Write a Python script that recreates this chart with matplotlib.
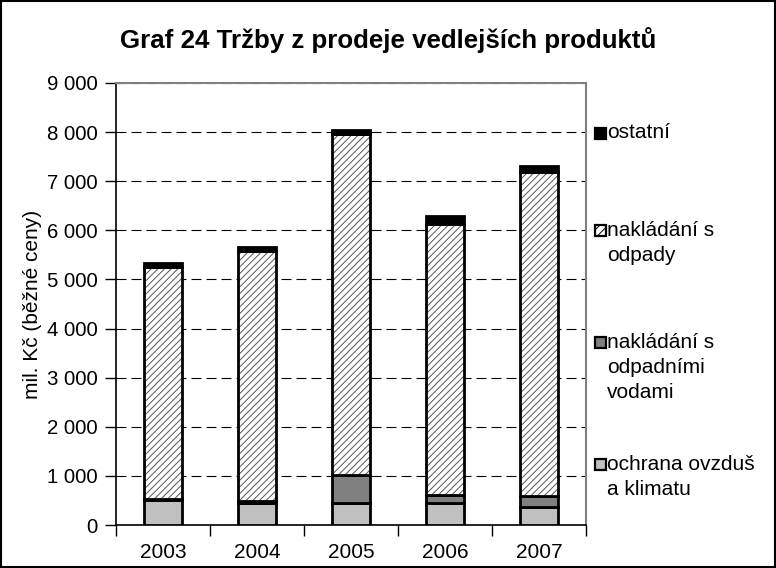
import numpy as np
import matplotlib.pyplot as plt
from matplotlib.patches import Rectangle

plt.rcParams['font.family'] = ['Liberation Sans', 'DejaVu Sans']
plt.rcParams['hatch.linewidth'] = 0.7

years = ["2003", "2004", "2005", "2006", "2007"]
ochrana = [500, 440, 440, 440, 370]
vody = [20, 40, 570, 170, 220]
odpady = [4730, 5090, 6960, 5520, 6600]
ostatni = [80, 80, 80, 170, 110]

labels = ["ochrana ovzduš\na klimatu", "nakládání s\nodpadními\nvodami",
          "nakládání s\nodpady", "ostatní"]

fig = plt.figure(figsize=(7.76, 5.68), dpi=100)
ax = fig.add_axes([0.1495, 0.0757, 0.6055, 0.7783])

x = np.arange(len(years))
w = 0.41
b1 = np.array(ochrana)
b2 = b1 + np.array(vody)
b3 = b2 + np.array(odpady)

ax.bar(x, ochrana, w, color="#c0c0c0", edgecolor="black", linewidth=2, zorder=3)
ax.bar(x, vody, w, bottom=b1, color="#808080", edgecolor="black", linewidth=2, zorder=3)
# hatch first (gray), then the black outline on top
ax.bar(x, odpady, w, bottom=b2, color="white", edgecolor="#555555", linewidth=0,
       hatch="/////", zorder=3)
ax.bar(x, odpady, w, bottom=b2, fill=False, edgecolor="black", linewidth=2, zorder=3)
ax.bar(x, ostatni, w, bottom=b3, color="black", edgecolor="black", linewidth=2, zorder=3)

ax.set_xlim(-0.5, 4.5)
ax.set_ylim(0, 9000)
ax.set_yticks(np.arange(0, 9001, 1000))
ax.set_yticklabels([f"{v:,}".replace(",", " ") for v in range(0, 9001, 1000)], fontsize=14.7)
ax.set_xticks(x)
ax.set_xticklabels(years, fontsize=15)
ax.set_xticks(np.arange(-0.5, 5, 1), minor=True)
ax.tick_params(axis="x", which="major", length=0, pad=13)
ax.tick_params(axis="x", which="minor", length=8, width=1, direction="out")
ax.tick_params(axis="y", length=8, width=1, direction="out", pad=5)
ax.grid(axis="y", color="black", linestyle=(0, (9, 4.5)), linewidth=0.8, zorder=0)
for s in ["top", "right"]:
    ax.spines[s].set_color("#808080")
    ax.spines[s].set_linewidth(1.5)
for s in ["left", "bottom"]:
    ax.spines[s].set_linewidth(1.2)
ax.set_ylabel("mil. Kč (běžné ceny)", fontsize=15, labelpad=4)

fig.text(0.5, 0.93, "Graf 24 Tržby z prodeje vedlejších produktů", fontsize=18.6,
         fontweight="bold", ha="center", va="center")

# legend drawn by hand (Excel style: entries spread down the right side)
leg_colors = ["#c0c0c0", "#808080", "white", "black"]
leg_hatch = [None, None, "////", None]
leg_y = [464, 342, 230, 133]   # first text line centre, pixels from top
W, H = 776, 568
for lab, col, hat, yp in zip(labels, leg_colors, leg_hatch, leg_y):
    fig.patches.append(Rectangle((595 / W, 1 - (yp + 6) / H), 11 / W, 11 / H,
                                 transform=fig.transFigure, facecolor=col,
                                 edgecolor="black", linewidth=1.6, hatch=hat))
    for i, line in enumerate(lab.split("\n")):
        fig.text(607 / W, 1 - (yp + i * 25.5) / H, line, fontsize=15, va="center", ha="left")

fig.patches.append(Rectangle((0.001, 0.001), 0.998, 0.998, transform=fig.transFigure,
                             fill=False, edgecolor="black", linewidth=1.5))

fig.savefig("out.png", dpi=100)
